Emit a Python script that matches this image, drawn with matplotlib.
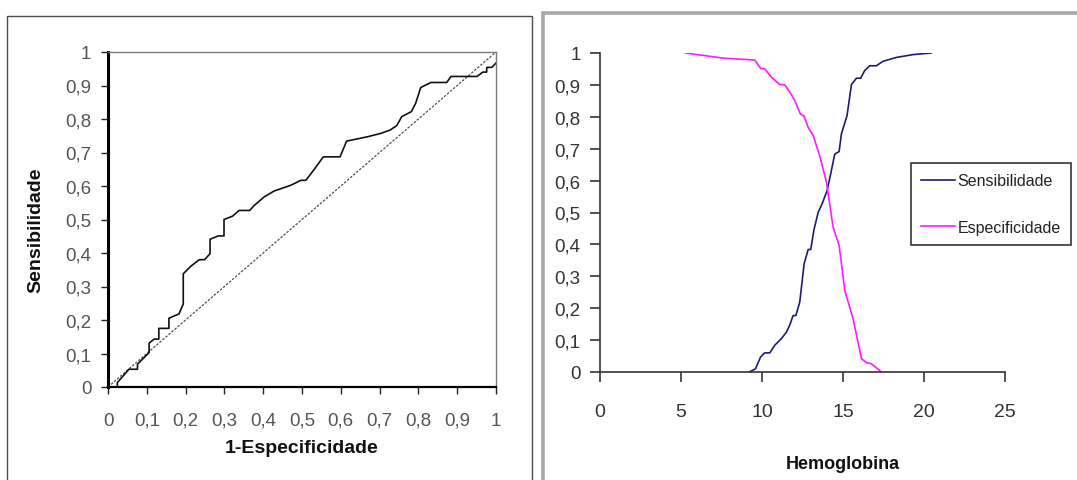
import matplotlib
matplotlib.use("Agg")
import matplotlib.pyplot as plt
from matplotlib.patches import Rectangle

# ROC curve: 1-specificity vs sensitivity
roc_fpr = [0.024, 0.024, 0.054, 0.076, 0.076, 0.106, 0.106, 0.119, 0.131, 0.131, 0.157, 0.157,
           0.166, 0.183, 0.194, 0.194, 0.213, 0.235, 0.249, 0.263, 0.263, 0.284, 0.299, 0.299,
           0.321, 0.338, 0.365, 0.377, 0.402, 0.428, 0.471, 0.497, 0.510, 0.531, 0.555, 0.598,
           0.615, 0.669, 0.703, 0.727, 0.744, 0.757, 0.782, 0.793, 0.806, 0.832, 0.873, 0.884,
           0.951, 0.966, 0.976, 0.976, 0.989, 1.000]
roc_sens = [0.000, 0.013, 0.053, 0.053, 0.068, 0.103, 0.131, 0.143, 0.143, 0.175, 0.175, 0.205,
            0.210, 0.218, 0.248, 0.338, 0.360, 0.380, 0.380, 0.398, 0.441, 0.451, 0.451, 0.500,
            0.510, 0.527, 0.527, 0.542, 0.567, 0.585, 0.602, 0.617, 0.617, 0.649, 0.687, 0.687,
            0.734, 0.747, 0.757, 0.767, 0.780, 0.807, 0.822, 0.847, 0.894, 0.909, 0.909, 0.927,
            0.927, 0.940, 0.940, 0.954, 0.954, 0.967]

# Sensitivity and specificity by hemoglobin cut-off
hb_sens = [9.21, 9.60, 9.91, 10.17, 10.48, 10.79, 11.20, 11.51, 11.72, 11.92, 12.09, 12.33,
           12.60, 12.85, 13.01, 13.20, 13.47, 13.71, 14.02, 14.24, 14.49, 14.76, 14.90, 15.25,
           15.52, 15.83, 16.09, 16.34, 16.65, 17.06, 17.47, 18.29, 19.32, 20.45]
sens = [0.000, 0.010, 0.047, 0.060, 0.060, 0.084, 0.105, 0.125, 0.148, 0.177, 0.177, 0.219,
        0.339, 0.384, 0.384, 0.444, 0.501, 0.527, 0.569, 0.621, 0.683, 0.691, 0.746, 0.804,
        0.901, 0.921, 0.921, 0.945, 0.960, 0.960, 0.974, 0.986, 0.995, 1.000]

hb_spec = [5.28, 7.60, 9.56, 9.91, 10.17, 10.59, 11.10, 11.41, 11.72, 12.02, 12.37, 12.60,
           12.85, 13.16, 13.56, 13.98, 14.39, 14.76, 15.11, 15.62, 16.14, 16.44, 16.75, 17.37]
spec = [1.000, 0.984, 0.978, 0.952, 0.950, 0.924, 0.901, 0.900, 0.877, 0.851, 0.809, 0.802,
        0.767, 0.741, 0.678, 0.595, 0.454, 0.397, 0.256, 0.167, 0.042, 0.029, 0.026, 0.000]

roc_ticks = [0, 0.1, 0.2, 0.3, 0.4, 0.5, 0.6, 0.7, 0.8, 0.9, 1]
roc_tick_labels = ["0", "0,1", "0,2", "0,3", "0,4", "0,5", "0,6", "0,7", "0,8", "0,9", "1"]
hb_xticks = [0, 5, 10, 15, 20, 25]
hb_xtick_labels = ["0", "5", "10", "15", "20", "25"]

plt.rcParams["font.family"] = ["Liberation Sans", "DejaVu Sans"]

W, H = 1077, 481
fig = plt.figure(figsize=(W / 100, H / 100), dpi=100)
fig.patch.set_facecolor("white")


def fx(px):
    return px / W


def fy(py):
    return 1 - py / H


# panel frames
fig.patches.append(Rectangle((fx(7), -0.02), fx(525), fy(17) + 0.02, transform=fig.transFigure,
                             fill=False, edgecolor="#4d4d4d", linewidth=1.0))
fig.patches.append(Rectangle((fx(543), -0.02), fx(560), fy(14) + 0.02, transform=fig.transFigure,
                             fill=False, edgecolor="#a8a8a8", linewidth=2.6))

# ---- left: ROC curve ----
ax1 = fig.add_axes([fx(108), fy(388), fx(388), (388 - 53) / H])
ax1.plot([0, 1], [0, 1], linestyle=(0, (2.0, 1.2)), color="#505050", linewidth=0.9)
ax1.plot(roc_fpr, roc_sens, color="#111111", linewidth=1.2)
ax1.set_xlim(0, 1)
ax1.set_ylim(0, 1)
ax1.set_xticks(roc_ticks)
ax1.set_xticklabels(roc_tick_labels)
ax1.set_yticks(roc_ticks)
ax1.set_yticklabels(roc_tick_labels)
for s in ("top", "right"):
    ax1.spines[s].set_color("#7a7a7a")
    ax1.spines[s].set_linewidth(1.0)
ax1.spines["left"].set_linewidth(2.2)
ax1.spines["left"].set_color("black")
ax1.spines["bottom"].set_linewidth(1.6)
ax1.spines["bottom"].set_color("black")
ax1.tick_params(axis="both", direction="out", length=5, width=1.0, color="#222222",
                labelsize=13.5, labelcolor="#555555")
ax1.tick_params(axis="y", pad=7)
ax1.tick_params(axis="x", pad=13)
ax1.set_xlabel("1-Especificidade", fontsize=14, fontweight="bold", color="#111111")
ax1.set_ylabel("Sensibilidade", fontsize=14, fontweight="bold", color="#111111")
ax1.xaxis.set_label_coords(0.5, -0.155)
ax1.yaxis.set_label_coords(-0.165, 0.47)

# ---- right: sensitivity / specificity vs hemoglobin ----
ax2 = fig.add_axes([fx(600), fy(373), fx(405), (373 - 54) / H])
ax2.plot(hb_sens, sens, color="#1c1c78", linewidth=1.2, label="Sensibilidade")
ax2.plot(hb_spec, spec, color="#ff1aff", linewidth=1.2, label="Especificidade")
ax2.set_xlim(0, 25)
ax2.set_ylim(0, 1)
ax2.set_xticks(hb_xticks)
ax2.set_xticklabels(hb_xtick_labels)
ax2.set_yticks(roc_ticks)
ax2.set_yticklabels(roc_tick_labels)
for s in ("top", "right"):
    ax2.spines[s].set_visible(False)
for s in ("left", "bottom"):
    ax2.spines[s].set_color("#333333")
    ax2.spines[s].set_linewidth(1.2)
ax2.tick_params(axis="both", direction="out", length=7, width=1.2, color="#333333",
                labelcolor="#333333")
ax2.tick_params(axis="y", labelsize=13.5, pad=7)
ax2.tick_params(axis="x", labelsize=14, pad=15)
ax2.set_xlabel("Hemoglobina", fontsize=13, fontweight="bold", color="#111111")
ax2.xaxis.set_label_coords((843 - 600) / 405, -0.26)

leg = ax2.legend(loc="upper left", bbox_to_anchor=(fx(911), fy(164)),
                 bbox_transform=fig.transFigure, frameon=True, fancybox=False,
                 prop={"size": 11.5}, handlelength=2.1, handletextpad=0.15,
                 labelspacing=1.95, borderpad=0.65, borderaxespad=0)
leg.get_frame().set_edgecolor("black")
leg.get_frame().set_linewidth(1.2)
for t in leg.get_texts():
    t.set_color("#222222")

fig.savefig("out.png", dpi=100, facecolor="white")
